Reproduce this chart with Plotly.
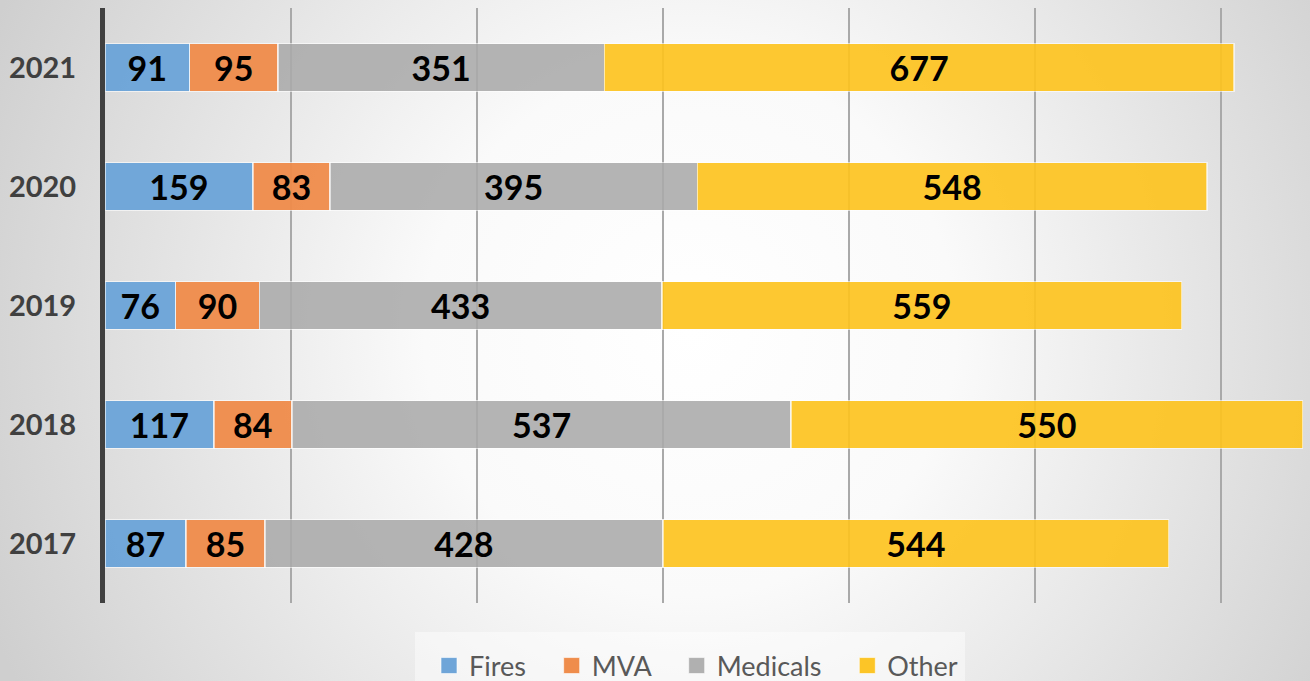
import base64
import plotly.graph_objects as go

years = ["2017", "2018", "2019", "2020", "2021"]
fires = [87, 117, 76, 159, 91]
mva = [85, 84, 90, 83, 95]
medicals = [428, 537, 433, 395, 351]
other = [544, 550, 559, 548, 677]
x_ticks = [0, 200, 400, 600, 800, 1000, 1200]

series = [
    ("Fires", fires, "rgba(106,163,216,0.95)", "#6fa5d8"),
    ("MVA", mva, "rgba(239,139,74,0.95)", "#ef8d4c"),
    ("Medicals", medicals, "rgba(170,170,170,0.88)", "#b0b0b0"),
    ("Other", other, "rgba(253,195,31,0.92)", "#fcc527"),
]

W, H = 1310, 681
L, R, T, B = 105, 0, 8, 78
pw, ph = W - L - R, H - T - B

svg = f'''<svg xmlns="http://www.w3.org/2000/svg" width="{W}" height="{H}" viewBox="0 0 {W} {H}">
<defs><radialGradient id="g" cx="690" cy="330" r="760" gradientUnits="userSpaceOnUse">
<stop offset="0" stop-color="#ffffff"/><stop offset="0.35" stop-color="#fafafa"/>
<stop offset="1" stop-color="#cfcfcf"/></radialGradient></defs>
<rect width="{W}" height="{H}" fill="url(#g)"/></svg>'''
src = "data:image/svg+xml;base64," + base64.b64encode(svg.encode()).decode()

fig = go.Figure()
for name, vals, col, lcol in series:
    fig.add_trace(go.Bar(
        y=years, x=vals, name=name, orientation="h", showlegend=False,
        marker=dict(color=col, line=dict(color="rgba(255,255,255,0.6)", width=1.5)),
        text=vals, textposition="inside", insidetextanchor="middle",
        textangle=0,
        textfont=dict(family="Lato", size=36, color="black", weight="bold"),
    ))
pad = "\u00a0\u00a0\u00a0"
for i, (name, vals, col, lcol) in enumerate(series):
    fig.add_trace(go.Scatter(
        x=[None], y=[None], mode="markers",
        name=name + (pad if i < len(series) - 1 else ""),
        marker=dict(symbol="square", size=16, color=lcol,
                    line=dict(color="rgba(255,255,255,0.6)", width=1)),
    ))

def px(xp):
    return (xp - L) / pw

def py(yp):
    return (H - B - yp) / ph

fig.update_layout(
    width=W, height=H,
    margin=dict(l=L, r=R, t=T, b=B, autoexpand=False),
    barmode="stack", bargap=0.6,
    paper_bgcolor="white", plot_bgcolor="rgba(0,0,0,0)",
    showlegend=True,
    legend=dict(orientation="h", x=px(696), xanchor="center", y=py(666), yanchor="middle",
                font=dict(family="Lato", size=27, color="#595959"),
                bgcolor="rgba(0,0,0,0)", itemwidth=30, traceorder="normal"),
    images=[dict(source=src, xref="paper", yref="paper", x=px(0), y=py(0),
                 sizex=W / pw, sizey=H / ph, xanchor="left", yanchor="top",
                 sizing="stretch", layer="below")],
    shapes=[dict(type="rect", xref="paper", yref="paper", x0=px(415), x1=px(965),
                 y0=py(681), y1=py(632), fillcolor="rgba(255,255,255,0.45)",
                 line=dict(width=0), layer="below")],
    xaxis=dict(range=[0, 1296], tickvals=x_ticks, showticklabels=False,
               showgrid=True, gridcolor="#a9a9a9", gridwidth=2, zeroline=False,
               showline=False, fixedrange=True, automargin=False),
    yaxis=dict(showline=True, linecolor="#404040", linewidth=5, showgrid=False,
               ticks="", ticklabelstandoff=18, automargin=False,
               tickfont=dict(family="Lato", size=29, color="#404040", weight="bold")),
)

fig.write_html("out.html", config={"displayModeBar": False},
               post_script="document.body.style.margin='0';document.body.style.overflow='hidden';")
